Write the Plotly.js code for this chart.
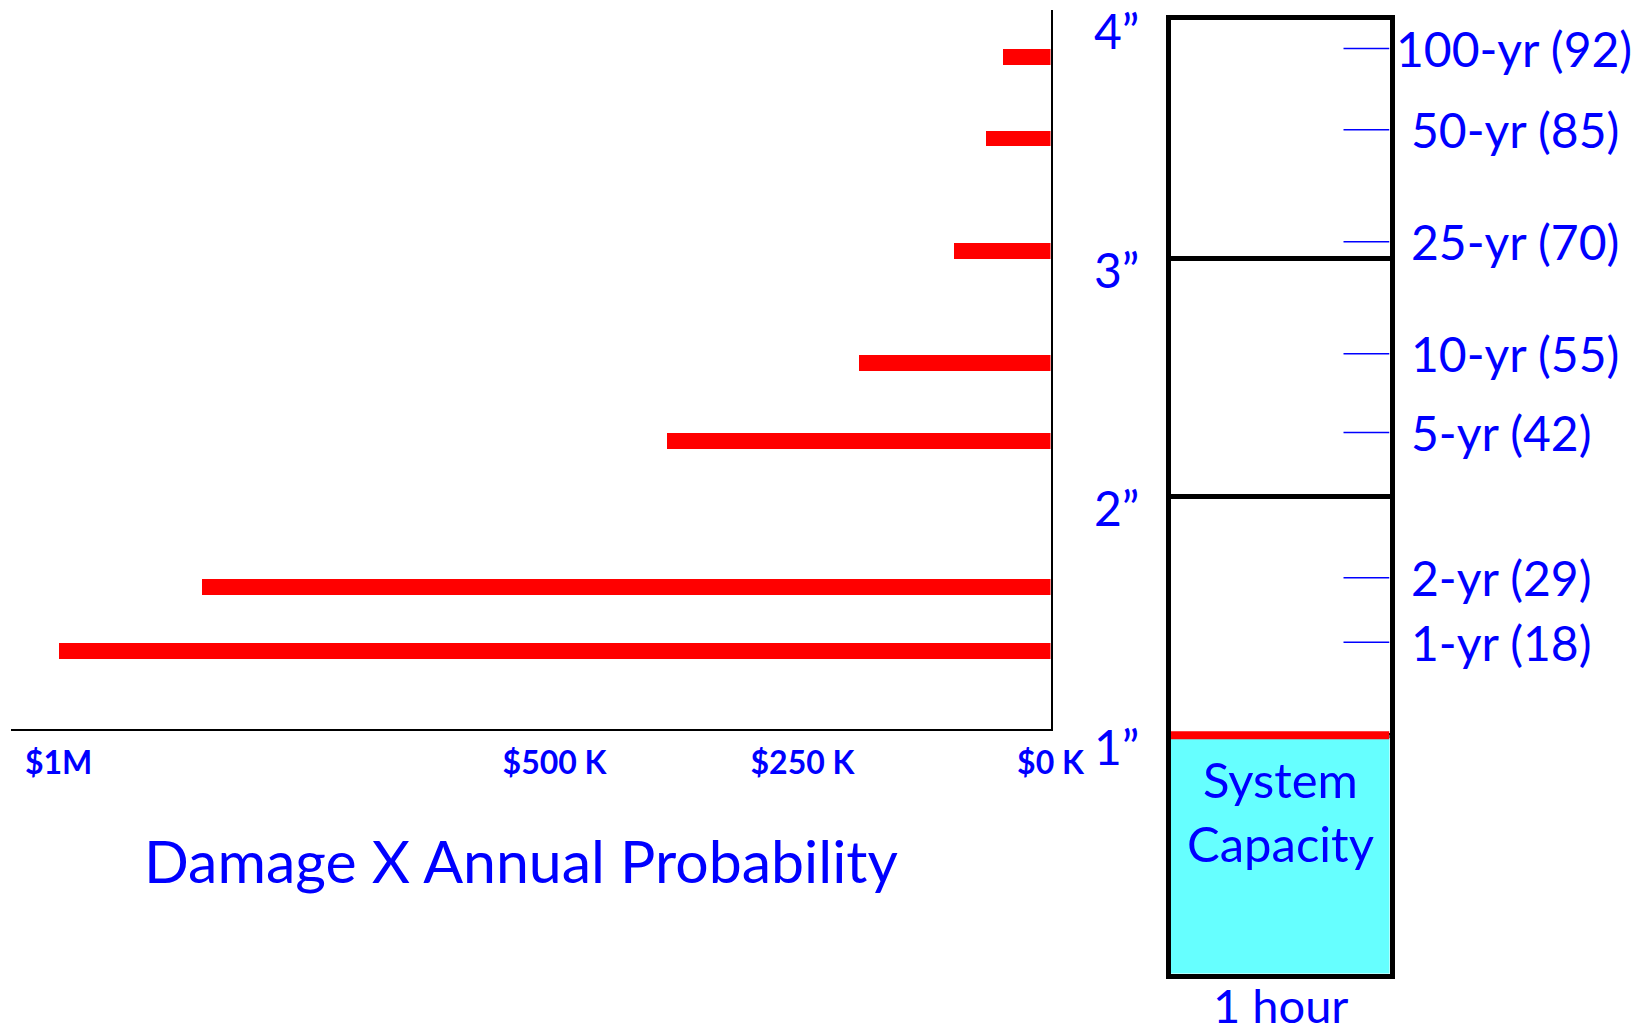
<!DOCTYPE html>
<html>
<head>
<meta charset="utf-8">
<script src="https://cdn.plot.ly/plotly-3.0.1.min.js"></script>
<style>
html, body { margin: 0; padding: 0; background: #ffffff; }
#chart { width: 1646px; height: 1034px; }
</style>
</head>
<body>
<div id="chart"></div>
<script>
// ---------- data ----------
const returnPeriodYears = [100, 50, 25, 10, 5, 2, 1];
const eventCounts       = [92, 85, 70, 55, 42, 29, 18];
const stormDepthIn      = [3.88, 3.54, 3.07, 2.60, 2.27, 1.66, 1.39];
const damageXProb       = [48000, 65000, 97000, 193000, 387000, 855000, 1000000];
const damageTickVals    = [1000000, 500000, 250000, 0];
const damageTickText    = ['$1M', '$500 K', '$250 K', '$0 K'];
const depthTickVals     = [1, 2, 3, 4];
const depthTickText     = ['1\u201D', '2\u201D', '3\u201D', '4\u201D'];
const systemCapacityIn  = 1;
const stormDurationHr   = 1;
const durationLabel     = '1 hour';
const capacityLabel     = 'System<br>Capacity';
const damageTitle       = 'Damage X Annual Probability';

// ---------- layout helpers ----------
const W = 1646, H = 1034;
const px = v => v / W;
const py = v => (H - v) / H;
const BLUE = '#0000FF', RED = '#FF0000', CYAN = '#66FFFF';
const FONT = 'Lato, "Open Sans", sans-serif';

const tickLineStart = 0.79;
const tickX = [], tickY = [];
stormDepthIn.forEach(d => { tickX.push(tickLineStart, stormDurationHr, null); tickY.push(d, d, null); });

const traces = [
  { type: 'bar', orientation: 'h', x: damageXProb, y: stormDepthIn, width: 0.067,
    marker: { color: RED, line: { width: 0 } }, xaxis: 'x', yaxis: 'y', hoverinfo: 'skip' },
  { type: 'bar', x: [stormDurationHr / 2], y: [systemCapacityIn], width: [stormDurationHr], base: 0,
    marker: { color: CYAN, line: { width: 0 } }, xaxis: 'x2', yaxis: 'y2', hoverinfo: 'skip' },
  { type: 'scatter', mode: 'lines', x: [0, stormDurationHr], y: [systemCapacityIn, systemCapacityIn],
    line: { color: RED, width: 8 }, xaxis: 'x2', yaxis: 'y2', hoverinfo: 'skip' },
  { type: 'scatter', mode: 'lines', x: tickX, y: tickY, connectgaps: false,
    line: { color: BLUE, width: 1.5 }, xaxis: 'x2', yaxis: 'y2', hoverinfo: 'skip' }
];

const annotations = [];
depthTickVals.forEach((v, i) => annotations.push({
  xref: 'x2', x: 0, xshift: -54, xanchor: 'center',
  yref: 'y2', y: v, yshift: -11, yanchor: 'middle',
  text: depthTickText[i], showarrow: false, font: { family: FONT, size: 48, color: BLUE }
}));
returnPeriodYears.forEach((rp, i) => annotations.push({
  xref: 'x2', x: stormDurationHr, xshift: i === 0 ? 4 : 19, xanchor: 'left',
  yref: 'y2', y: stormDepthIn[i], yanchor: 'middle',
  text: rp + '-yr (' + eventCounts[i] + ')', showarrow: false,
  font: { family: FONT, size: 48, color: BLUE }
}));
annotations.push({
  xref: 'x2', x: stormDurationHr / 2, xanchor: 'center',
  yref: 'y2', y: systemCapacityIn, yanchor: 'top', yshift: -13,
  text: capacityLabel, showarrow: false, font: { family: FONT, size: 49, color: BLUE }
});
annotations.push({
  xref: 'x2', x: stormDurationHr / 2, xanchor: 'center',
  yref: 'paper', y: 0, yanchor: 'bottom', yshift: 0, borderpad: 0,
  text: durationLabel, showarrow: false, font: { family: FONT, size: 47, color: BLUE }
});
annotations.push({
  xref: 'paper', x: px(521), xanchor: 'center',
  yref: 'paper', y: py(860), yanchor: 'middle',
  text: damageTitle, showarrow: false, font: { family: FONT, size: 59, color: BLUE }
});

const layout = {
  width: W, height: H,
  margin: { l: 0, r: 0, t: 0, b: 0, pad: 0 },
  paper_bgcolor: '#ffffff', plot_bgcolor: 'rgba(0,0,0,0)',
  showlegend: false, bargap: 0,
  xaxis: {
    domain: [px(11), px(1050.5)], anchor: 'y',
    range: [1048000, 0], autorange: false,
    showline: true, linecolor: '#000000', linewidth: 2,
    showgrid: false, zeroline: false, ticks: '',
    tickvals: damageTickVals, ticktext: damageTickText,
    tickfont: { family: FONT, size: 32, color: BLUE, weight: 'bold' },
    ticklabelstandoff: 5
  },
  yaxis: {
    domain: [py(729), py(10)], anchor: 'x', side: 'right',
    range: [1.063, 4.079], autorange: false,
    showline: true, linecolor: '#000000', linewidth: 2,
    showgrid: false, zeroline: false, ticks: '', showticklabels: false
  },
  xaxis2: {
    domain: [px(1170.5), px(1389.5)], anchor: 'y2',
    range: [0, stormDurationHr], autorange: false,
    showline: true, mirror: true, linecolor: '#000000', linewidth: 5,
    showgrid: false, zeroline: false, ticks: '', showticklabels: false
  },
  yaxis2: {
    domain: [py(973.5), py(20)], anchor: 'x2',
    range: [0, 4], autorange: false,
    showline: true, mirror: true, linecolor: '#000000', linewidth: 5,
    showgrid: true, gridcolor: '#000000', gridwidth: 5,
    tickvals: depthTickVals, zeroline: false, ticks: '', showticklabels: false
  },
  annotations: annotations
};

Plotly.newPlot('chart', traces, layout, { staticPlot: true, displayModeBar: false });
</script>
</body>
</html>
